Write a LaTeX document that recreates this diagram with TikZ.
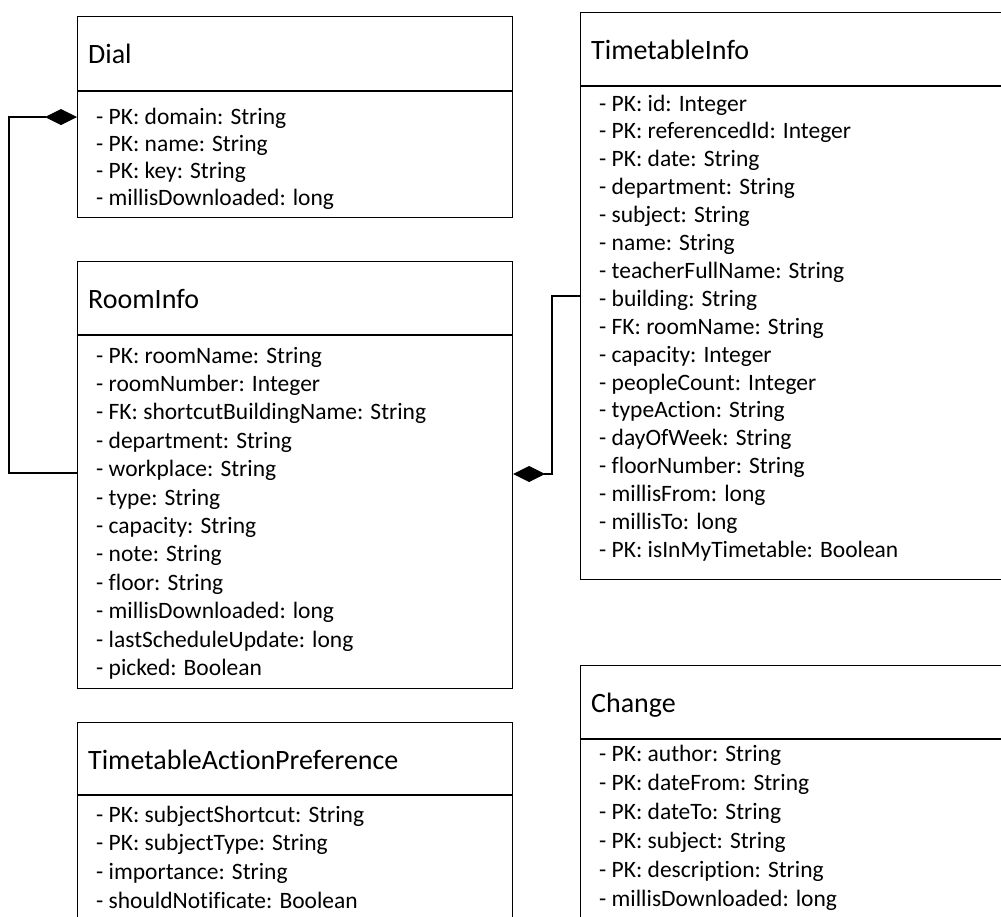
\documentclass[tikz,border=0pt]{standalone}
\usepackage{fontspec}
\setmainfont{Carlito}[Ligatures=NoCommon]
\usetikzlibrary{arrows.meta}

\tikzset{
  umlbox/.style={draw, line width=1.2pt, rectangle, inner sep=0pt, anchor=north west},
  sepline/.style={line width=1.2pt},
  classtitle/.style={anchor=base west, inner sep=0pt, font=\fontsize{28}{30}\selectfont},
  attr/.style={anchor=base west, inner sep=0pt, font=\fontsize{23.5}{26}\selectfont},
  composition/.style={line width=1.2pt, -{Diamond[length=32pt,width=16pt]}},
}

% \umlclass{name}{left}{top}{right}{bottom}{header height}{title}{first baseline}{attribute list}
% line spacing of the attributes is taken from \spacing
\newcommand{\umlclass}[9]{%
  \node[umlbox, minimum width={#4-#2}, minimum height={#5-#3}] (#1) at (#2,#3) {};
  \draw[sepline] ([yshift={-(#6)*1pt}]#1.north west) -- ([yshift={-(#6)*1pt}]#1.north east);
  \node[classtitle] (#1-title) at (#2+11,#3+47) {#7};
  \foreach \txt [count=\i] in {#9} {
    \node[attr] (#1-a\i) at (#2+19,{#3+#8+(\i-1)*\spacing}) {\txt};
  }
}

\begin{document}
\begin{tikzpicture}[x=1pt,y=-1pt]
\useasboundingbox (0,0) rectangle (1001,916);
\clip (0,0) rectangle (1001,916);

% Dial
\def\spacing{27.3}
\umlclass{dial}{77}{16}{512}{217}{75}{Dial}{108}{
  {- PK: domain: String},
  {- PK: name: String},
  {- PK: key: String},
  {- millisDownloaded: long}}

% RoomInfo
\def\spacing{28.4}
\umlclass{room}{77}{261}{512}{688}{74}{RoomInfo}{102}{
  {- PK: roomName: String},
  {- roomNumber: Integer},
  {- FK: shortcutBuildingName: String},
  {- department: String},
  {- workplace: String},
  {- type: String},
  {- capacity: String},
  {- note: String},
  {- floor: String},
  {- millisDownloaded: long},
  {- lastScheduleUpdate: long},
  {- picked: Boolean}}

% TimetableActionPreference (runs past the lower edge)
\def\spacing{28.7}
\umlclass{pref}{77}{722}{512}{960}{73}{TimetableActionPreference}{100}{
  {- PK: subjectShortcut: String},
  {- PK: subjectType: String},
  {- importance: String},
  {- shouldNotificate: Boolean}}

% TimetableInfo (runs past the right edge)
\def\spacing{27.9}
\umlclass{tt}{580}{12}{1030}{579}{74}{TimetableInfo}{99}{
  {- PK: id: Integer},
  {- PK: referencedId: Integer},
  {- PK: date: String},
  {- department: String},
  {- subject: String},
  {- name: String},
  {- teacherFullName: String},
  {- building: String},
  {- FK: roomName: String},
  {- capacity: Integer},
  {- peopleCount: Integer},
  {- typeAction: String},
  {- dayOfWeek: String},
  {- floorNumber: String},
  {- millisFrom: long},
  {- millisTo: long},
  {- PK: isInMyTimetable: Boolean}}

% Change (runs past the right and lower edges)
\def\spacing{29.1}
\umlclass{change}{580}{665}{1030}{960}{74}{Change}{96}{
  {- PK: author: String},
  {- PK: dateFrom: String},
  {- PK: dateTo: String},
  {- PK: subject: String},
  {- PK: description: String},
  {- millisDownloaded: long}}

% attachment points of the compositions
\coordinate (dialEnd) at ([yshift=-101pt]dial.north west);
\coordinate (roomStart) at ([yshift=-212pt]room.north west);
\coordinate (ttStart) at ([yshift=-284pt]tt.north west);
\coordinate (roomEnd) at ([yshift=-213pt]room.north east);

\draw[composition] (roomStart) -- ++(-68,0) |- (dialEnd);
\draw[composition] (ttStart) -- ++(-28,0) |- (roomEnd);
\end{tikzpicture}
\end{document}
